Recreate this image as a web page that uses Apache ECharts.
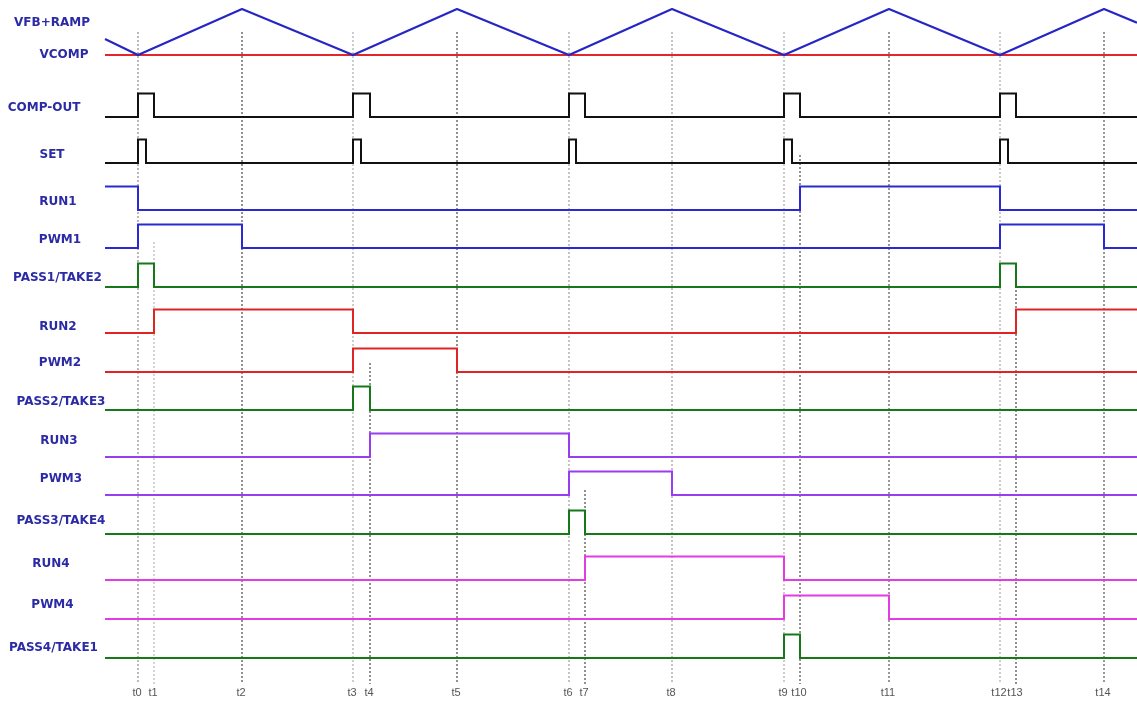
<!DOCTYPE html>
<html><head><meta charset="utf-8">
<script src="https://cdn.jsdelivr.net/npm/echarts@6/dist/echarts.min.js"></script>
<style>html,body{margin:0;padding:0;background:#fff}#c{width:1137px;height:705px}</style>
</head><body><div id="c"></div><script>
// ---------- DATA ----------
const T_NAMES = ['t0','t1','t2','t3','t4','t5','t6','t7','t8','t9','t10','t11','t12','t13','t14'];
const T_VALUES = [0,16,104,215,232,319,431,447,534,646,662,751,862,878,966];
const X_MIN = -33, X_MAX = 999;

const RAMP_TIMES  = [-33, 0, 104, 215, 319, 431, 534, 646, 751, 862, 966, 999];
const RAMP_LEVELS = [0.35, 0, 1, 0, 1, 0, 1, 0, 1, 0, 1, 0.7];
const VCOMP_LEVELS = [0, 0];

const SIGNAL_NAMES = ['COMP-OUT','SET','RUN1','PWM1','PASS1/TAKE2','RUN2','PWM2','PASS2/TAKE3','RUN3','PWM3','PASS3/TAKE4','RUN4','PWM4','PASS4/TAKE1'];
const SIGNAL_INIT  = [0,0,1,0,0,0,0,0,0,0,0,0,0,0];
const COMP_OUT_EDGES = [0,16,215,232,431,447,646,662,862,878];
const SET_EDGES      = [0,8,215,223,431,438,646,654,862,870];
const RUN1_EDGES     = [0,662,862];
const PWM1_EDGES     = [0,104,862,966];
const PASS1_EDGES    = [0,16,862,878];
const RUN2_EDGES     = [16,215,878];
const PWM2_EDGES     = [215,319];
const PASS2_EDGES    = [215,232];
const RUN3_EDGES     = [232,431];
const PWM3_EDGES     = [431,534];
const PASS3_EDGES    = [431,447];
const RUN4_EDGES     = [447,646];
const PWM4_EDGES     = [646,751];
const PASS4_EDGES    = [646,662];
const SIGNAL_EDGES = [COMP_OUT_EDGES,SET_EDGES,RUN1_EDGES,PWM1_EDGES,PASS1_EDGES,RUN2_EDGES,PWM2_EDGES,PASS2_EDGES,RUN3_EDGES,PWM3_EDGES,PASS3_EDGES,RUN4_EDGES,PWM4_EDGES,PASS4_EDGES];
const TOP_NAMES = ['VFB+RAMP','VCOMP'];

// ---------- LAYOUT / STYLE ----------
const VCOMP_Y = 55, RAMP_AMP = 46, AMP = 23.5;
const ROW_BASE  = [117,163,210,248,287,333,372,410,457,495,534,580,619,658];
const ROW_LABEL_Y = [108,155,202,240,278,327,363,402,441,479,521,564,605,648];
const ROW_LABEL_X = [44,52,58,60,57.5,58,60,61,59,61,61,51,52.5,53.5];
const TOP_LABEL_Y = [23,55];
const TOP_LABEL_X = [52,64];
const ROW_COLORS = ['#111111','#111111','#2a2ad0','#2a2ad0','#17781a','#df2424','#df2424','#17781a','#9a3cf0','#9a3cf0','#17781a','#e23ce2','#e23ce2','#17781a'];
const T_LINE_TOP = [32,242,32,32,363,32,32,490,32,32,155,32,32,290,32];
const T_LINE_COLOR = ['#777','#aaa','#222','#999','#222','#222','#888','#222','#888','#999','#222','#333','#999','#222','#333'];
const T_LINE_BOTTOM = 684;
const LABEL_FONT = 'bold 12px "DejaVu Sans"';
const LABEL_COLOR = '#2b2ba6';

function stepPoints(init, edges) {
  let lvl = init; const pts = [[X_MIN, lvl]];
  for (const e of edges) { pts.push([e, lvl]); lvl = 1 - lvl; pts.push([e, lvl]); }
  pts.push([X_MAX, lvl]);
  return pts;
}

const series = [];
T_VALUES.forEach((t, i) => {
  series.push({
    type: 'line', silent: true, symbol: 'none', clip: false, z: 1,
    data: [[t, T_LINE_TOP[i]], [t, T_LINE_BOTTOM]],
    lineStyle: { color: T_LINE_COLOR[i], width: 1, type: [2, 2] }
  });
});
series.push({
  type: 'line', symbol: 'none', z: 3,
  data: [[X_MIN, VCOMP_Y - VCOMP_LEVELS[0]*RAMP_AMP], [X_MAX, VCOMP_Y - VCOMP_LEVELS[1]*RAMP_AMP]],
  lineStyle: { color: '#e3262b', width: 2 }
});
series.push({
  type: 'line', symbol: 'none', z: 4,
  data: RAMP_TIMES.map((t, i) => [t, VCOMP_Y - RAMP_LEVELS[i]*RAMP_AMP]),
  lineStyle: { color: '#2626c4', width: 2.2 }
});
SIGNAL_NAMES.forEach((n, r) => {
  series.push({
    type: 'line', name: n, symbol: 'none', z: 3,
    data: stepPoints(SIGNAL_INIT[r], SIGNAL_EDGES[r]).map(p => [p[0], ROW_BASE[r] - p[1]*AMP]),
    lineStyle: { color: ROW_COLORS[r], width: 2, join: 'miter' }
  });
});

const graphics = [];
TOP_NAMES.forEach((n, i) => graphics.push({
  type: 'text', x: TOP_LABEL_X[i], y: TOP_LABEL_Y[i], silent: true,
  style: { text: n, font: LABEL_FONT, fill: LABEL_COLOR, align: 'center', verticalAlign: 'middle' }
}));
SIGNAL_NAMES.forEach((n, r) => graphics.push({
  type: 'text', x: ROW_LABEL_X[r], y: ROW_LABEL_Y[r], silent: true,
  style: { text: n, font: LABEL_FONT, fill: LABEL_COLOR, align: 'center', verticalAlign: 'middle' }
}));

const chart = echarts.init(document.getElementById('c'), null, { renderer: 'canvas' });
chart.setOption({
  animation: false,
  backgroundColor: '#fff',
  grid: { left: 105, right: 0, top: 0, bottom: 20 },
  xAxis: {
    type: 'value', min: X_MIN, max: X_MAX,
    axisLine: { show: false }, axisTick: { show: false }, splitLine: { show: false },
    axisLabel: {
      customValues: T_VALUES, margin: 2, color: '#555', fontSize: 11, fontFamily: 'Liberation Sans',
      padding: [0, 2, 0, 0],
      formatter: v => T_NAMES[T_VALUES.indexOf(v)] || ''
    }
  },
  yAxis: {
    type: 'value', inverse: true, min: 0, max: 685, show: false
  },
  graphic: graphics,
  series: series
});
</script></body></html>
